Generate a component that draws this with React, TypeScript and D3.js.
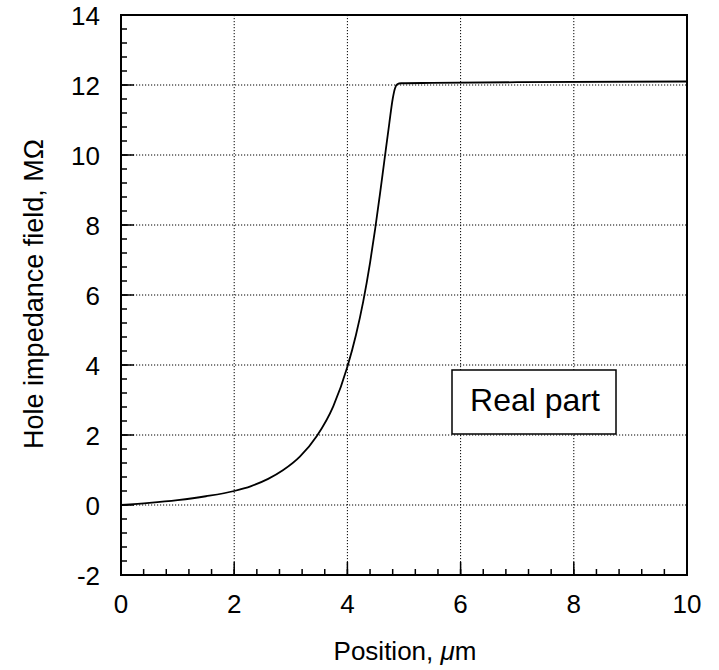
import React, { useEffect, useRef } from "react";
import * as d3 from "d3";

const xDomain = [0, 10];
const yDomain = [-2, 14];
const xMajorTicks = [0, 2, 4, 6, 8, 10];
const yMajorTicks = [-2, 0, 2, 4, 6, 8, 10, 12, 14];
const xGridTicks = [2, 4, 6, 8];
const yGridTicks = [0, 2, 4, 6, 8, 10, 12];
const minorStep = 0.4;

const posX = [0, 0.5, 1, 1.5, 2, 2.3, 2.6, 2.86, 3.16, 3.46, 3.75, 4.0, 4.15, 4.28, 4.4, 4.49, 4.57, 4.65, 4.74, 4.8, 4.84, 4.88, 4.95, 5.5, 7, 10];
const realPart = [0, 0.06, 0.14, 0.25, 0.4, 0.54, 0.745, 0.99, 1.38, 1.97, 2.82, 3.95, 4.85, 5.82, 6.92, 7.88, 8.82, 9.8, 10.9, 11.6, 11.9, 12.02, 12.05, 12.06, 12.08, 12.1];

const legendText = "Real part";
const xTitle = "Position, ";
const yTitle = "Hole impedance field, MΩ";

export default function App() {
  const ref = useRef<SVGSVGElement>(null);
  useEffect(() => {
    const svg = d3.select(ref.current);
    svg.selectAll("*").remove();
    const left = 121, right = 687, top = 15, bottom = 575;
    const x = d3.scaleLinear().domain(xDomain).range([left, right]);
    const y = d3.scaleLinear().domain(yDomain).range([bottom, top]);
    const font = "'Liberation Sans', Arial, sans-serif";

    const g = svg.append("g");
    // grid
    g.selectAll("line.gx").data(xGridTicks).enter().append("line")
      .attr("x1", d => x(d)).attr("x2", d => x(d)).attr("y1", top).attr("y2", bottom)
      .attr("stroke", "#000").attr("stroke-width", 1).attr("stroke-dasharray", "1.2,1.8");
    g.selectAll("line.gy").data(yGridTicks).enter().append("line")
      .attr("x1", left).attr("x2", right).attr("y1", d => y(d)).attr("y2", d => y(d))
      .attr("stroke", "#000").attr("stroke-width", 1).attr("stroke-dasharray", "1.2,1.8");

    // minor ticks
    const xMinor = d3.range(xDomain[0], xDomain[1] + 1e-6, minorStep);
    const yMinor = d3.range(yDomain[0], yDomain[1] + 1e-6, minorStep);
    g.selectAll("line.mx").data(xMinor).enter().append("line")
      .attr("x1", d => x(d)).attr("x2", d => x(d)).attr("y1", bottom).attr("y2", bottom - 6)
      .attr("stroke", "#000").attr("stroke-width", 1.5);
    g.selectAll("line.my").data(yMinor).enter().append("line")
      .attr("x1", left).attr("x2", left + 6).attr("y1", d => y(d)).attr("y2", d => y(d))
      .attr("stroke", "#000").attr("stroke-width", 1.5);
    // major ticks
    g.selectAll("line.Mx").data(xMajorTicks).enter().append("line")
      .attr("x1", d => x(d)).attr("x2", d => x(d)).attr("y1", bottom).attr("y2", bottom - 13)
      .attr("stroke", "#000").attr("stroke-width", 1.5);
    g.selectAll("line.My").data(yMajorTicks).enter().append("line")
      .attr("x1", left).attr("x2", left + 13).attr("y1", d => y(d)).attr("y2", d => y(d))
      .attr("stroke", "#000").attr("stroke-width", 1.5);

    // frame
    g.append("rect").attr("x", left).attr("y", top).attr("width", right - left).attr("height", bottom - top)
      .attr("fill", "none").attr("stroke", "#000").attr("stroke-width", 2);

    // tick labels
    g.selectAll("text.xl").data(xMajorTicks).enter().append("text")
      .attr("x", d => x(d)).attr("y", bottom + 38).attr("text-anchor", "middle")
      .attr("font-family", font).attr("font-size", 26).text(d => String(d));
    g.selectAll("text.yl").data(yMajorTicks).enter().append("text")
      .attr("x", left - 21).attr("y", d => y(d) + 10).attr("text-anchor", "end")
      .attr("font-family", font).attr("font-size", 26).text(d => String(d));

    // curve
    const pts = posX.map((p, i) => [p, realPart[i]] as [number, number]);
    const line = d3.line<[number, number]>().x(d => x(d[0])).y(d => y(d[1])).curve(d3.curveMonotoneX);
    g.append("path").attr("d", line(pts)).attr("fill", "none").attr("stroke", "#000").attr("stroke-width", 1.8);

    // legend box
    g.append("rect").attr("x", 452).attr("y", 370).attr("width", 164).attr("height", 64)
      .attr("fill", "#fff").attr("stroke", "#000").attr("stroke-width", 1.5);
    g.append("text").attr("x", 535).attr("y", 411).attr("text-anchor", "middle")
      .attr("font-family", font).attr("font-size", 32).text(legendText);

    // axis titles
    const xt = g.append("text").attr("x", 405).attr("y", 660).attr("text-anchor", "middle")
      .attr("font-family", font).attr("font-size", 26);
    xt.append("tspan").text(xTitle);
    xt.append("tspan").attr("font-style", "italic").text("μ");
    xt.append("tspan").text("m");
    g.append("text").attr("transform", `translate(43,294) rotate(-90)`)
      .attr("text-anchor", "middle").attr("font-family", font).attr("font-size", 27).text(yTitle);
  }, []);
  return (
    <svg ref={ref} width={719} height={670} style={{ position: "absolute", left: 0, top: 0, background: "#fff" }} />
  );
}
